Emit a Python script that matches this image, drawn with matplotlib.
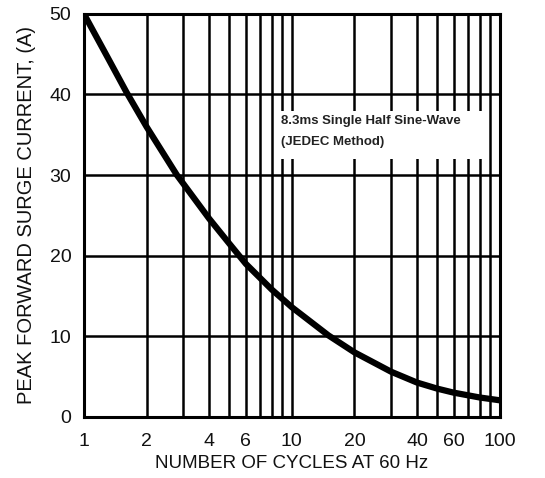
import matplotlib
matplotlib.use("Agg")
import matplotlib.pyplot as plt
from matplotlib.patches import Rectangle

# data
cycles = [1, 1.3, 1.6, 2, 2.8, 4, 5, 6, 8, 10, 15, 20, 30, 40, 50, 60, 80, 100]
surge_current = [50, 44.6, 40.3, 36, 30, 24.6, 21.5, 19.0, 15.8, 13.6, 10.1, 8.0, 5.6, 4.25, 3.5, 3.0, 2.4, 2.05]

x_grid = [1, 2, 3, 4, 5, 6, 7, 8, 9, 10, 20, 30, 40, 50, 60, 70, 80, 90, 100]
x_labels = [1, 2, 4, 6, 10, 20, 40, 60, 100]
y_ticks = [0, 10, 20, 30, 40, 50]

plt.rcParams['font.family'] = ['Liberation Sans', 'DejaVu Sans']

fig = plt.figure(figsize=(5.45, 4.78), dpi=100)
ax = fig.add_axes([0.154, 0.128, 0.763, 0.843])

ax.set_xscale('log')
ax.set_xlim(1, 100)
ax.set_ylim(0, 50)

# grid lines
for xv in x_grid:
    ax.axvline(xv, color='black', lw=1.8, zorder=1)
for yv in y_ticks:
    ax.axhline(yv, color='black', lw=1.8, zorder=1)

# white box behind the note
ax.add_patch(Rectangle((0.462, 0.64), 0.505, 0.12, transform=ax.transAxes,
                       facecolor='white', edgecolor='none', zorder=2))
ax.text(0.475, 0.733, "8.3ms Single Half Sine-Wave", transform=ax.transAxes,
        fontsize=9.5, fontweight='bold', color='#222222', va='center', zorder=3)
ax.text(0.475, 0.682, "(JEDEC Method)", transform=ax.transAxes,
        fontsize=9.5, fontweight='bold', color='#222222', va='center', zorder=3)

ax.plot(cycles, surge_current, color='black', lw=4.5, solid_capstyle='round',
        solid_joinstyle='round', zorder=4)

ax.set_xticks(x_labels)
ax.set_xticklabels([str(v) for v in x_labels])
ax.xaxis.set_minor_locator(matplotlib.ticker.NullLocator())
ax.set_yticks(y_ticks)
ax.tick_params(length=0, labelsize=14, colors='#111111')
ax.tick_params(axis='x', pad=12)
ax.tick_params(axis='y', pad=9)

for s in ax.spines.values():
    s.set_linewidth(2.2)

ax.set_xlabel("NUMBER OF CYCLES AT 60 Hz", fontsize=13.5, color='#111111', labelpad=3)
ax.set_ylabel("PEAK FORWARD SURGE CURRENT, (A)", fontsize=14.5, color='#111111', labelpad=10)

fig.savefig("out.png", dpi=100)
